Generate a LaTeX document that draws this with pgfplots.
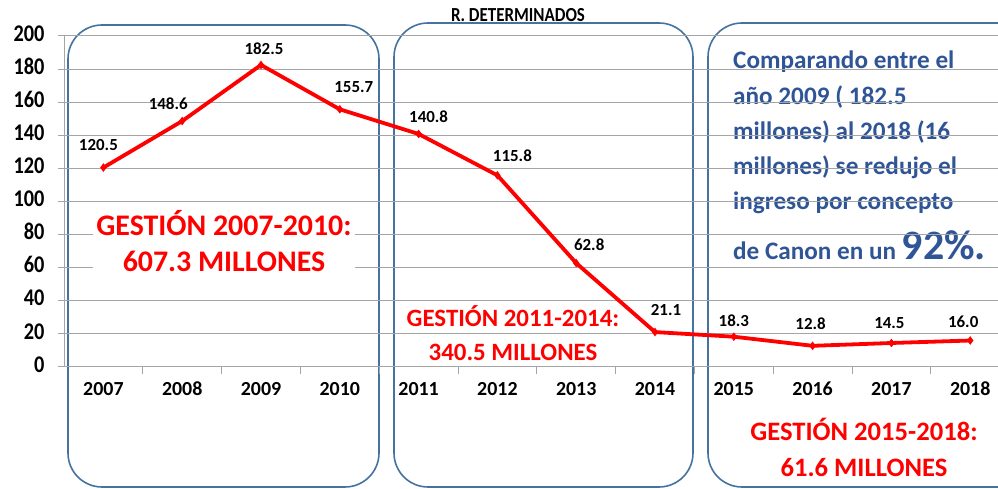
\documentclass[border=0pt]{standalone}
\usepackage{pgfplots}
\usepackage{pgfplotstable}
\pgfplotsset{compat=1.18}
\usepackage{fontspec}
\setmainfont{Carlito}
\newfontfamily\narrowfont{Carlito}[FakeStretch=0.85, UprightFont=*-Bold, BoldFont=*-Bold]
\definecolor{boxblue}{RGB}{70,114,160}
\definecolor{txtblue}{RGB}{47,85,151}
\definecolor{gridgray}{RGB}{165,165,165}
\definecolor{lred}{RGB}{255,0,0}

\pgfplotstableread{
x y dx dy
0 120.5 -5 23
1 148.6 -14 17
2 182.5 3 16
3 155.7 14 22
4 140.8 10 17
5 115.8 15 20
6 62.8 13 18
7 21.1 11 22
8 18.3 0 16
9 12.8 -2 22
10 14.5 -2 20
11 16.0 -7 19
}\datatable

\begin{document}
\begin{tikzpicture}[x=1bp,y=1bp]
\useasboundingbox (0,0) rectangle (998,489);
\clip (0,0) rectangle (998,489);
\fill[white] (0,0) rectangle (998,489);
% rounded boxes
\draw[boxblue, line width=1.6bp, rounded corners=34bp] (68,2) rectangle (379,464);
\draw[boxblue, line width=1.6bp, rounded corners=34bp] (394,2) rectangle (693,466);
\draw[boxblue, line width=1.6bp, rounded corners=34bp] (708,2) rectangle (1040,466);
% blue comment text
\begin{scope}[every node/.style={anchor=base west, text=txtblue, font=\bfseries\fontsize{25.3}{28}\selectfont, inner sep=0pt}]
\node at (733,420) {Comparando entre el};
\node at (733,384) {año 2009 ( 182.5};
\node at (733,349) {millones) al 2018 (16};
\node at (733,314) {millones) se redujo el};
\node at (733,279) {ingreso por concepto};
\node at (733,229) {de Canon en un {\fontsize{42}{44}\selectfont 92\%.}};
\end{scope}
% title
\node[font=\narrowfont\fontsize{20}{22}\selectfont, inner sep=0pt] at (518,474) {R. DETERMINADOS};

\begin{axis}[
  at={(64bp,122bp)}, anchor=south west,
  scale only axis, width=934bp, height=331bp,
  xmin=-0.5, xmax=11.353, ymin=0, ymax=200,
  axis lines*=left,
  axis line style={draw=gridgray, line width=1bp},
  ytick={0,20,...,200},
  ymajorgrids, grid style={draw=gridgray, line width=1bp},
  xtick={0,...,11},
  xticklabels={2007,2008,2009,2010,2011,2012,2013,2014,2015,2016,2017,2018},
  minor xtick={0.5,1.5,...,10.5},
  major x tick style={draw=none},
  tick style={draw=gridgray, line width=1bp},
  tick align=outside,
  major tick length=6bp, minor tick length=7bp,
  typeset ticklabels with strut,
  /pgf/number format/assume math mode=true,
  xticklabel style={font=\bfseries\fontsize{20}{22}\selectfont, yshift=-4bp},
  yticklabel style={font=\narrowfont\fontsize{24}{26}\selectfont, xshift=-10bp},
  clip=false,
]
\addplot[lred, line width=3.8bp, mark=diamond*, mark size=3.5bp,
  mark options={fill=lred, draw=lred, line width=1bp},
  nodes near coords,
  point meta=explicit symbolic,
  visualization depends on={\thisrow{dx} \as \dx},
  visualization depends on={\thisrow{dy} \as \dy},
  every node near coord/.append style={anchor=center, text=black,
    font=\bfseries\fontsize{17}{19}\selectfont, xshift=\dx bp, yshift=\dy bp},
] table[x=x, y=y, meta=y] \datatable;
\end{axis}

% red text
\node[fill=white, text=lred, font=\bfseries\fontsize{30}{37}\selectfont, align=center, inner sep=3bp] at (224,248) {GESTIÓN 2007-2010:\\607.3 MILLONES};
\node[text=lred, font=\bfseries\fontsize{25}{34}\selectfont, align=center, inner sep=0pt] at (513,156) {GESTIÓN 2011-2014:\\340.5 MILLONES};
\node[text=lred, font=\bfseries\fontsize{26.7}{36}\selectfont, align=center, inner sep=0pt] at (864,42) {GESTIÓN 2015-2018:\\61.6 MILLONES};
\end{tikzpicture}
\end{document}
